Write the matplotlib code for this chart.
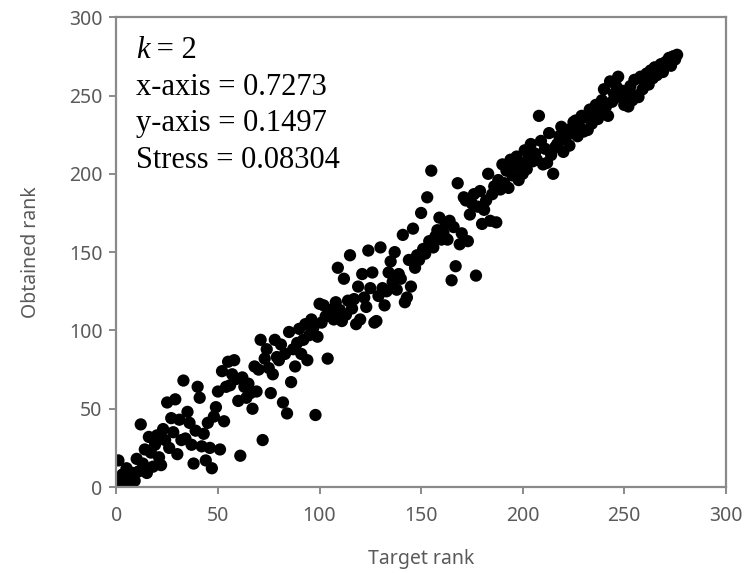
import matplotlib
matplotlib.use("Agg")
import matplotlib.pyplot as plt

# Target rank (x) and obtained rank (y) for every item
target_rank = [
    1, 2, 3, 4, 5, 6, 7, 8, 9, 10,
    11, 12, 13, 14, 15, 16, 17, 18, 19, 20,
    21, 22, 23, 24, 25, 26, 27, 28, 29, 30,
    31, 32, 33, 34, 35, 36, 37, 38, 39, 40,
    41, 42, 43, 44, 45, 46, 47, 48, 49, 50,
    51, 52, 53, 54, 55, 56, 57, 58, 59, 60,
    61, 62, 63, 64, 65, 66, 67, 68, 69, 70,
    71, 72, 73, 74, 75, 76, 77, 78, 79, 80,
    81, 82, 83, 84, 85, 86, 87, 88, 89, 90,
    91, 92, 93, 94, 95, 96, 97, 98, 99, 100,
    101, 102, 103, 104, 105, 106, 107, 108, 109, 110,
    111, 112, 113, 114, 115, 116, 117, 118, 119, 120,
    121, 122, 123, 124, 125, 126, 127, 128, 129, 130,
    131, 132, 133, 134, 135, 136, 137, 138, 139, 140,
    141, 142, 143, 144, 145, 146, 147, 148, 149, 150,
    151, 152, 153, 154, 155, 156, 157, 158, 159, 160,
    161, 162, 163, 164, 165, 166, 167, 168, 169, 170,
    171, 172, 173, 174, 175, 176, 177, 178, 179, 180,
    181, 182, 183, 184, 185, 186, 187, 188, 189, 190,
    191, 192, 193, 194, 195, 196, 197, 198, 199, 200,
    201, 202, 203, 204, 205, 206, 207, 208, 209, 210,
    211, 212, 213, 214, 215, 216, 217, 218, 219, 220,
    221, 222, 223, 224, 225, 226, 227, 228, 229, 230,
    231, 232, 233, 234, 235, 236, 237, 238, 239, 240,
    241, 242, 243, 244, 245, 246, 247, 248, 249, 250,
    251, 252, 253, 254, 255, 256, 257, 258, 259, 260,
    261, 262, 263, 264, 265, 266, 267, 268, 269, 270,
    271, 272, 273, 274, 275, 276,
]

obtained_rank = [
    17, 3, 8, 1, 12, 5, 2, 9, 4, 18,
    10, 40, 15, 24, 9, 32, 22, 13, 27, 33,
    19, 14, 37, 30, 54, 25, 44, 35, 56, 21,
    43, 30, 68, 31, 48, 41, 27, 15, 36, 64,
    57, 26, 34, 17, 41, 25, 12, 45, 51, 61,
    24, 74, 42, 64, 80, 65, 72, 81, 69, 55,
    20, 70, 64, 57, 66, 60, 50, 77, 61, 75,
    94, 30, 82, 88, 76, 60, 72, 94, 83, 81,
    91, 54, 85, 47, 99, 67, 88, 77, 92, 101,
    85, 94, 104, 81, 97, 107, 102, 46, 96, 117,
    105, 116, 109, 82, 113, 112, 107, 118, 140, 113,
    106, 133, 110, 119, 148, 114, 120, 104, 128, 107,
    136, 121, 115, 151, 127, 137, 105, 106, 122, 153,
    127, 116, 125, 137, 144, 131, 150, 126, 136, 133,
    161, 118, 121, 145, 128, 165, 140, 148, 145, 175,
    152, 149, 185, 157, 202, 153, 160, 164, 172, 158,
    162, 168, 158, 170, 132, 166, 141, 194, 155, 162,
    185, 183, 157, 174, 181, 187, 135, 179, 189, 168,
    177, 183, 200, 170, 187, 192, 169, 196, 190, 206,
    194, 202, 191, 209, 199, 205, 211, 196, 207, 200,
    215, 203, 210, 219, 208, 213, 209, 237, 221, 206,
    216, 207, 226, 212, 200, 217, 219, 224, 230, 214,
    222, 228, 218, 226, 233, 234, 224, 230, 237, 227,
    236, 228, 241, 232, 238, 244, 235, 240, 247, 254,
    243, 237, 259, 246, 251, 256, 262, 249, 253, 244,
    251, 243, 256, 247, 260, 250, 249, 262, 254, 259,
    264, 257, 266, 261, 268, 263, 267, 270, 265, 271,
    272, 274, 269, 275, 273, 276,
]

axis_ticks = [0, 50, 100, 150, 200, 250, 300]
k_value = "2"
fit_lines = ["x-axis = 0.7273", "y-axis = 0.1497", "Stress = 0.08304"]

axis_grey = "#8a8a8a"
label_grey = "#5a5a5a"
sans = "Noto Sans"
serif = "Liberation Serif"

fig = plt.figure(figsize=(7.46, 5.73), dpi=100)
ax = fig.add_axes([0.156, 0.150, 0.817, 0.820])

ax.scatter(target_rank, obtained_rank, s=78, color="black", edgecolors="none")

ax.set_xlim(0, 300)
ax.set_ylim(0, 300)
ax.set_xticks(axis_ticks)
ax.set_yticks(axis_ticks)

for side in ["left", "right", "top", "bottom"]:
    ax.spines[side].set_color(axis_grey)
    ax.spines[side].set_linewidth(1.6)

ax.tick_params(axis="both", direction="out", length=5, width=1.4,
               color=axis_grey, labelcolor=label_grey, labelsize=14)
ax.tick_params(axis="x", pad=9)
ax.tick_params(axis="y", pad=5)
for lbl in ax.get_xticklabels() + ax.get_yticklabels():
    lbl.set_fontfamily(sans)

ax.set_xlabel("Target rank", fontsize=14, color=label_grey,
              fontfamily=sans, labelpad=16)
ax.set_ylabel("Obtained rank", fontsize=14, color=label_grey,
              fontfamily=sans, labelpad=20)

# Annotation block in a serif face, k set in italics
text_x = 0.032
baselines = [0.913, 0.835, 0.757, 0.679]
k_txt = ax.text(text_x, baselines[0], "k", transform=ax.transAxes, fontsize=22,
                fontfamily=serif, fontstyle="italic", va="baseline", ha="left")
fig.canvas.draw()
k_box = k_txt.get_window_extent().transformed(ax.transAxes.inverted())
ax.text(k_box.x1, baselines[0], " = " + k_value, transform=ax.transAxes,
        fontsize=22, fontfamily=serif, va="baseline", ha="left")
for yb, line in zip(baselines[1:], fit_lines):
    ax.text(text_x, yb, line, transform=ax.transAxes,
            fontsize=22, fontfamily=serif, va="baseline", ha="left")

fig.savefig("out.png", dpi=100)
